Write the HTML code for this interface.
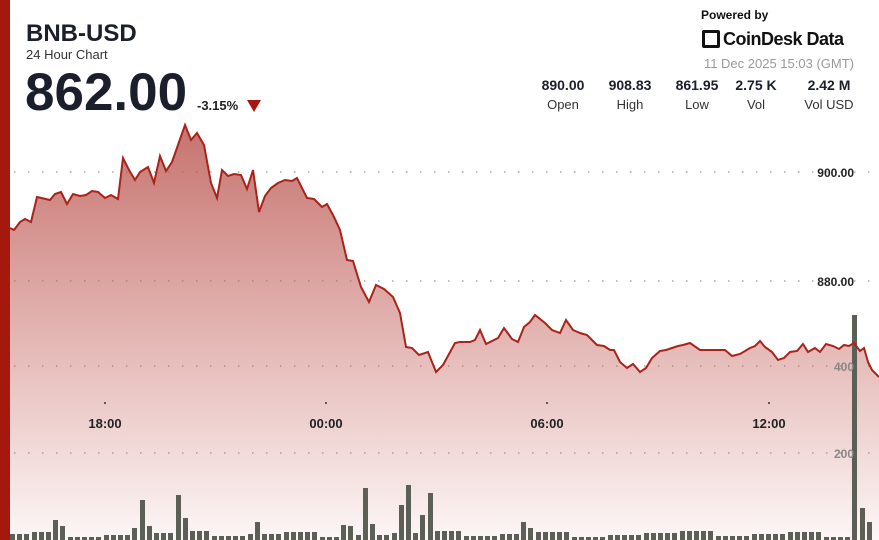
<!DOCTYPE html><html><head><style>
body{margin:0;width:879px;height:540px;overflow:hidden;background:#fff;font-family:"Liberation Sans",sans-serif;position:relative}
.a{position:absolute;white-space:nowrap}
.v{font-weight:bold;font-size:14px;color:#1a1f2b;text-align:center;width:70px}
.l{font-size:13px;color:#333;text-align:center;width:70px}
</style></head><body>
<div class="a" style="left:0;top:0;width:10px;height:540px;background:#a5180e"></div>
<svg class="a" style="left:0;top:0" width="879" height="540" id="s">
<defs><linearGradient id="g" x1="0" y1="0" x2="0" y2="1"><stop offset="0" stop-color="#b8504a" stop-opacity=".8"/><stop offset="1" stop-color="#c0504a" stop-opacity=".05"/></linearGradient></defs>
<g stroke="#aaa" stroke-width="1.5" stroke-dasharray="1.5 12.5"><line x1="14" y1="172" x2="879" y2="172"/><line x1="14" y1="281" x2="879" y2="281"/><line x1="14" y1="366" x2="879" y2="366"/><line x1="14" y1="453" x2="879" y2="453"/></g>
<path id="ar" fill="url(#g)"/><g id="vb" fill="#5b5f55"></g><path id="ln" fill="none" stroke="#a8231a" stroke-width="2"/>
<g fill="#333"><circle cx="105" cy="403" r="1"/><circle cx="326" cy="403" r="1"/><circle cx="547" cy="403" r="1"/><circle cx="769" cy="403" r="1"/></g>
<g font-family="Liberation Sans" font-weight="bold" font-size="13" fill="#222" text-anchor="middle"><text x="105" y="428">18:00</text><text x="326" y="428">00:00</text><text x="547" y="428">06:00</text><text x="769" y="428">12:00</text></g>
<g font-family="Liberation Sans" font-weight="bold" font-size="12" text-anchor="end"><text x="854" y="177" fill="#222">900.00</text><text x="854" y="286" fill="#222">880.00</text><text x="854" y="371" fill="#888">400</text><text x="854" y="458" fill="#888">200</text></g>
</svg>
<div class="a" style="left:26px;top:20px;font-size:24px;font-weight:bold;color:#1a1f2b">BNB-USD</div>
<div class="a" style="left:26px;top:47px;font-size:13px;color:#333">24 Hour Chart</div>
<div class="a" style="left:25px;top:62px;font-size:53px;font-weight:bold;color:#1a1f2b">862.00</div>
<div class="a" style="left:197px;top:98px;font-size:13px;font-weight:bold;color:#222">-3.15%</div>
<div class="a" style="left:247px;top:100px;width:0;height:0;border-left:7px solid transparent;border-right:7px solid transparent;border-top:12px solid #a5180e"></div>
<div class="a" style="left:701px;top:8px;font-size:12px;font-weight:bold;color:#111">Powered by</div>
<div class="a" style="left:702px;top:30px;width:18px;height:18px;border:3px solid #111;box-sizing:border-box;border-radius:2px"></div>
<div class="a" style="left:723px;top:29px;font-size:18px;font-weight:bold;color:#111;letter-spacing:-.5px">CoinDesk Data</div>
<div class="a" style="right:25px;top:56px;font-size:13px;color:#999">11 Dec 2025 15:03 (GMT)</div>
<div class="a v" style="left:528px;top:77px">890.00</div><div class="a l" style="left:528px;top:97px">Open</div>
<div class="a v" style="left:595px;top:77px">908.83</div><div class="a l" style="left:595px;top:97px">High</div>
<div class="a v" style="left:662px;top:77px">861.95</div><div class="a l" style="left:662px;top:97px">Low</div>
<div class="a v" style="left:721px;top:77px">2.75 K</div><div class="a l" style="left:721px;top:97px">Vol</div>
<div class="a v" style="left:794px;top:77px">2.42 M</div><div class="a l" style="left:794px;top:97px">Vol USD</div>
<script>
var p=[[10,228],[14,230],[20,222],[25,219],[31,222],[37,197],[50,200],[55,194],[61,192],[67,204],[73,194],[80,196],[86,195],[92,191],[98,192],[105,198],[111,195],[118,199],[123,158],[129,170],[135,180],[140,172],[148,167],[154,183],[160,156],[166,171],[172,162],[185,125],[191,140],[197,133],[204,145],[211,183],[217,198],[222,170],[228,176],[234,174],[241,175],[247,189],[253,170],[259,212],[265,196],[271,188],[278,183],[285,180],[292,181],[297,178],[307,198],[314,199],[322,207],[327,204],[333,215],[340,230],[347,260],[353,261],[361,287],[369,302],[376,285],[384,289],[393,297],[400,313],[406,347],[412,348],[419,355],[428,352],[436,372],[443,365],[455,343],[460,342],[470,342],[475,340],[480,330],[486,344],[498,338],[504,328],[512,339],[518,342],[524,327],[530,322],[535,315],[545,323],[552,330],[560,333],[566,320],[573,330],[580,333],[587,335],[597,345],[604,346],[610,350],[614,350],[620,362],[627,368],[633,364],[640,372],[646,368],[652,358],[660,351],[666,350],[672,348],[678,346],[683,345],[690,343],[700,350],[725,350],[732,356],[740,354],[750,348],[755,346],[760,341],[765,347],[772,352],[778,360],[784,358],[790,352],[797,351],[803,344],[808,352],[815,348],[820,352],[826,344],[833,346],[839,349],[844,345],[849,346],[854,343],[860,351],[864,348],[868,362],[872,370],[879,377]];
var d=p.map((q,i)=>(i?'L':'M')+q[0]+' '+q[1]).join(' ');
document.getElementById('ln').setAttribute('d',d);
document.getElementById('ar').setAttribute('d',d+' L879 540 L10 540Z');
var big={143:40,180:45,187:22,150:14,136:12,345:15,351:14,363:52,370:16,405:55,398:35,428:47,422:25,520:18,527:12,57:20,64:14,257:18,856:225,862:32,868:18};
var h='';for(var x=12;x<876;x+=7.2){var k=Math.round(x);var hh=3+((k*37)%7);for(var b in big){if(Math.abs(b-k)<4)hh=big[b];}h+='<rect x="'+(k-2)+'" y="'+(540-hh)+'" width="5" height="'+hh+'"/>';}
document.getElementById('vb').innerHTML=h;
</script>
</body></html>
